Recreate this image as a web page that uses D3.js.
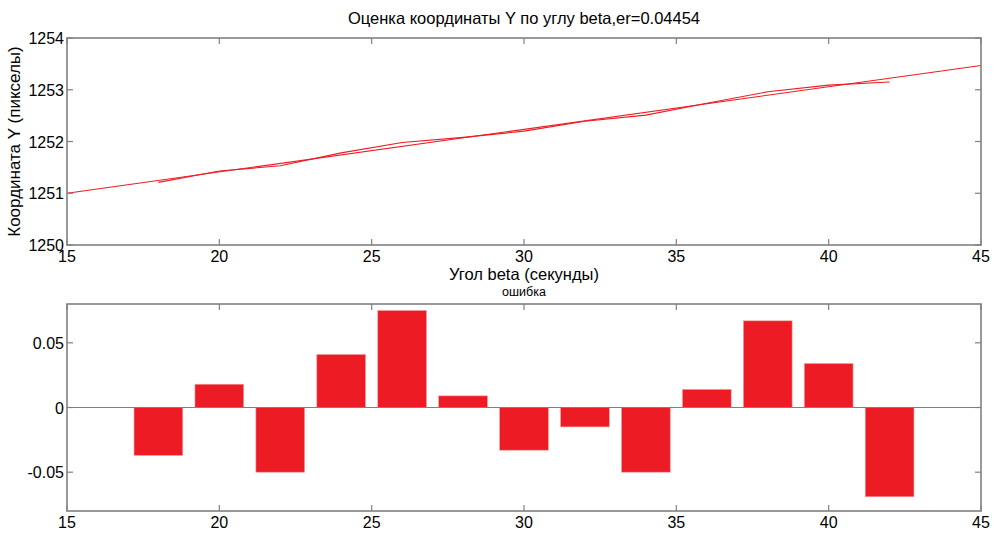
<!DOCTYPE html>
<html>
<head>
<meta charset="utf-8">
<script src="https://cdn.jsdelivr.net/npm/d3@7"></script>
<style>
  html, body { margin: 0; padding: 0; background: #fff; }
  svg { display: block; font-family: "Liberation Sans", Arial, sans-serif; }
</style>
</head>
<body>
<svg id="chart" width="996" height="533"></svg>
<script>
// Measured Y coordinate per beta angle and its linear fit
const betaMeasured = [18, 20, 22, 24, 26, 28, 30, 32, 34, 36, 38, 40, 42];
const yMeasured = [1251.21, 1251.43, 1251.53, 1251.78, 1251.98, 1252.08, 1252.20,
                   1252.39, 1252.51, 1252.74, 1252.96, 1253.09, 1253.15];
const betaFit = [15, 45];
const yFit = [1251.0, 1253.47];

// Residuals per angle
const errBeta = [18, 20, 22, 24, 26, 28, 30, 32, 34, 36, 38, 40, 42];
const errValues = [-0.037, 0.018, -0.050, 0.041, 0.075, 0.009, -0.033,
                   -0.015, -0.050, 0.014, 0.067, 0.034, -0.069];

const xTicks = [15, 20, 25, 30, 35, 40, 45];
const yTicksTop = [1250, 1251, 1252, 1253, 1254];
const yTicksBottom = [-0.05, 0, 0.05];
const yTickLabelsBottom = ["-0.05", "0", "0.05"];

const titleText = "Оценка координаты Y по углу beta,er=0.04454";
const xLabelText = "Угол beta (секунды)";
const yLabelText = "Координата Y (пикселы)";
const bottomTitleText = "ошибка";

const svg = d3.select("#chart");
const red = "#ed1c24";
const axisGray = "#808080";
const left = 67, right = 981;

const x = d3.scaleLinear().domain([15, 45]).range([left, right]);

function frame(g, y0, y1, yScale, yTicks, yFmt) {
  const tick = 6;
  // tick marks on all four sides, pointing inward
  xTicks.forEach(t => {
    const px = x(t);
    g.append("line").attr("x1", px).attr("x2", px).attr("y1", y1).attr("y2", y1 - tick)
      .attr("stroke", axisGray).attr("stroke-width", 1.2);
    g.append("line").attr("x1", px).attr("x2", px).attr("y1", y0).attr("y2", y0 + tick)
      .attr("stroke", axisGray).attr("stroke-width", 1.2);
  });
  yTicks.forEach(t => {
    const py = yScale(t);
    g.append("line").attr("x1", left).attr("x2", left + tick).attr("y1", py).attr("y2", py)
      .attr("stroke", axisGray).attr("stroke-width", 1.2);
    g.append("line").attr("x1", right).attr("x2", right - tick).attr("y1", py).attr("y2", py)
      .attr("stroke", axisGray).attr("stroke-width", 1.2);
  });
  g.append("rect").attr("x", left).attr("y", y0).attr("width", right - left).attr("height", y1 - y0)
    .attr("fill", "none").attr("stroke", axisGray).attr("stroke-width", 1.6);

  // tick labels
  g.selectAll(".xl").data(xTicks).join("text")
    .attr("x", d => x(d)).attr("y", y1 + 17)
    .attr("text-anchor", "middle").attr("font-size", 16).attr("fill", "#000")
    .text(d => d);
  g.selectAll(".yl").data(yTicks).join("text")
    .attr("x", left - 3).attr("y", d => yScale(d) + 6)
    .attr("text-anchor", "end").attr("font-size", 16).attr("fill", "#000")
    .text((d, i) => yFmt(d, i));
}

// ---- top panel: Y estimate vs beta ----
const topY0 = 38, topY1 = 245;
const yTop = d3.scaleLinear().domain([1250, 1254]).range([topY1, topY0]);
const gTop = svg.append("g");

const line = d3.line().x(d => x(d[0])).y(d => yTop(d[1]));
gTop.append("path")
  .attr("d", line(d3.zip(betaFit, yFit)))
  .attr("fill", "none").attr("stroke", red).attr("stroke-width", 1.1);
gTop.append("path")
  .attr("d", line(d3.zip(betaMeasured, yMeasured)))
  .attr("fill", "none").attr("stroke", red).attr("stroke-width", 1.1);

frame(gTop, topY0, topY1, yTop, yTicksTop, d => d);

gTop.append("text").attr("x", (left + right) / 2).attr("y", 24)
  .attr("text-anchor", "middle").attr("font-size", 16.5).attr("fill", "#000").text(titleText);
gTop.append("text").attr("x", (left + right) / 2).attr("y", 280)
  .attr("text-anchor", "middle").attr("font-size", 16.5).attr("fill", "#000").text(xLabelText);
gTop.append("text")
  .attr("transform", `translate(20, ${(topY0 + topY1) / 2}) rotate(-90)`)
  .attr("text-anchor", "middle").attr("font-size", 17).attr("fill", "#000").text(yLabelText);

// ---- bottom panel: residuals ----
const botY0 = 304, botY1 = 511;
const yBot = d3.scaleLinear().domain([-0.08, 0.08]).range([botY1, botY0]);
const gBot = svg.append("g");
const barW = x(16.6) - x(15);

gBot.selectAll("rect.bar").data(d3.zip(errBeta, errValues)).join("rect")
  .attr("class", "bar")
  .attr("x", d => x(d[0]) - barW / 2)
  .attr("width", barW)
  .attr("y", d => yBot(Math.max(0, d[1])))
  .attr("height", d => Math.abs(yBot(d[1]) - yBot(0)))
  .attr("fill", red).attr("stroke", "#f4a0a4").attr("stroke-width", 0.6);

gBot.append("line").attr("x1", left).attr("x2", right)
  .attr("y1", yBot(0)).attr("y2", yBot(0))
  .attr("stroke", axisGray).attr("stroke-width", 1.2);

frame(gBot, botY0, botY1, yBot, yTicksBottom, (d, i) => yTickLabelsBottom[i]);

gBot.append("text").attr("x", (left + right) / 2).attr("y", 296)
  .attr("text-anchor", "middle").attr("font-size", 12.5).attr("fill", "#000").text(bottomTitleText);
</script>
</body>
</html>
